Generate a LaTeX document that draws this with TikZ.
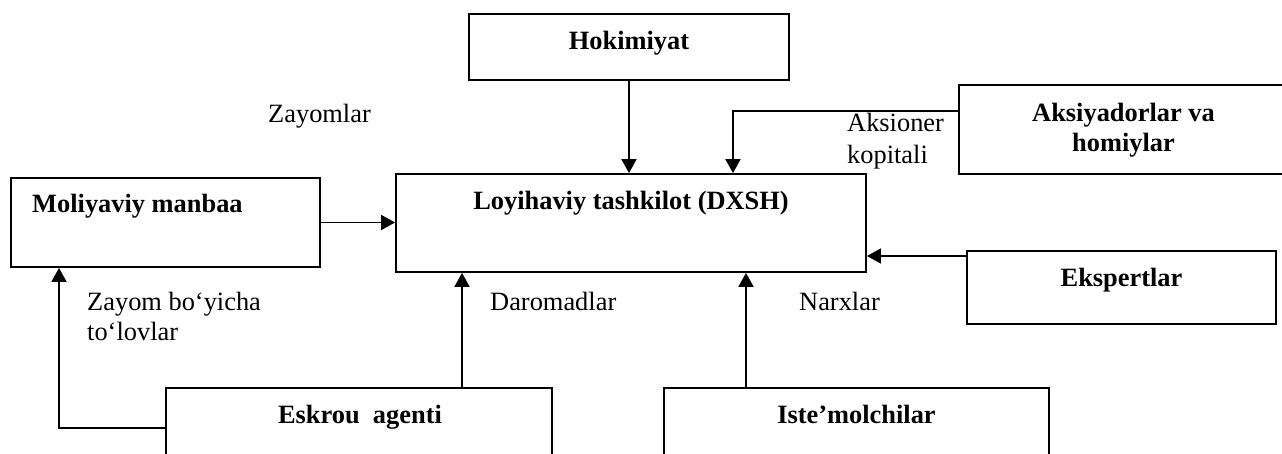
\documentclass[tikz,border=0pt]{standalone}
\usepackage{fontspec}
\setmainfont{Liberation Serif}
\usetikzlibrary{arrows.meta}
\begin{document}
\begin{tikzpicture}[x=1pt,y=-1pt,
  blk/.style={draw, line width=1.8pt, inner sep=0pt},
  arr/.style={line width=1.8pt, -{Triangle[length=14pt,width=15pt]}},
  link/.style={line width=1.8pt},
  txt/.style={inner sep=0pt, font=\fontsize{26.4}{30}\selectfont},
  btxt/.style={txt, font=\fontsize{26.4}{30}\selectfont\bfseries}]
\useasboundingbox (0,0) rectangle (1282,454);
\clip (0,0) rectangle (1282,454);

% boxes
\node[blk, minimum width=320pt, minimum height=66pt] (hok) at (629,47) {};
\node[blk, minimum width=470pt, minimum height=98pt] (loy) at (631,223) {};
\node[blk, minimum width=309pt, minimum height=89pt] (mol) at (165.5,222.5) {};
\node[blk, minimum width=351pt, minimum height=89pt] (aks) at (1134.5,129.5) {};
\node[blk, minimum width=309pt, minimum height=73pt] (eks) at (1121.5,287.5) {};
\node[blk, minimum width=386pt, minimum height=80pt] (esk) at (359,428) {};
\node[blk, minimum width=385pt, minimum height=80pt] (ist) at (856.5,428) {};

% box titles
\node[btxt, anchor=base] (hokt) at (629,50) {Hokimiyat};
\node[btxt, anchor=base] (loyt) at (631,210) {Loyihaviy tashkilot (DXSH)};
\node[btxt, anchor=base west] (molt) at (32,213) {Moliyaviy manbaa};
\node[btxt, anchor=base] (akst1) at (1123.5,122) {Aksiyadorlar va};
\node[btxt, anchor=base] (akst2) at (1123.5,152) {homiylar};
\node[btxt, anchor=base] (ekst) at (1121.5,287) {Ekspertlar};
\node[btxt, anchor=base] (eskt) at (360,423) {Eskrou~ agenti};
\node[btxt, anchor=base] (istt) at (856.5,423) {Iste’molchilar};

% flow labels
\node[txt, anchor=base west] (zay) at (268,123) {Zayomlar};
\node[txt, anchor=base west] (aksl1) at (847,132) {Aksioner};
\node[txt, anchor=base west] (aksl2) at (847,164) {kopitali};
\node[txt, anchor=base west] (zbl1) at (87,310) {Zayom bo‘yicha};
\node[txt, anchor=base west] (zbl2) at (87,340) {to‘lovlar};
\node[txt, anchor=base west] (dar) at (490,310) {Daromadlar};
\node[txt, anchor=base west] (nar) at (799,310) {Narxlar};

% connectors
\draw[arr] (hok.south) -- (hok.south |- loy.north);
\draw[arr] ([yshift=18.5pt]aks.west) -| ([xshift=102pt]loy.north);
\draw[arr] (mol.east) -- (mol.east -| loy.west);
\draw[arr] ([yshift=31.5pt]eks.west) -- ([yshift=-33pt]loy.east);
\draw[arr] ([xshift=103pt]esk.north) -- ([xshift=-169pt]loy.south);
\draw[arr] ([xshift=-110.5pt]ist.north) -- ([xshift=115pt]loy.south);
\draw[arr] (esk.west) -| ([xshift=-106.5pt]mol.south);
\end{tikzpicture}
\end{document}
